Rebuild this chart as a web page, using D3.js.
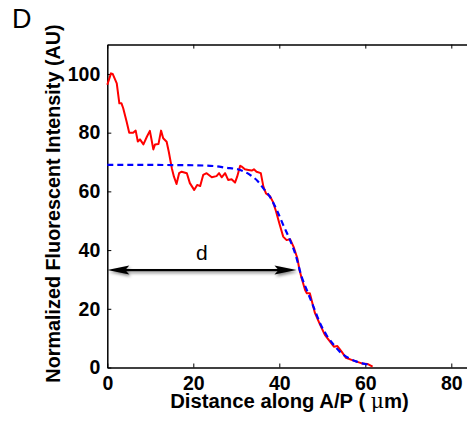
<!DOCTYPE html>
<html>
<head>
<meta charset="utf-8">
<script src="https://cdn.jsdelivr.net/npm/d3@7"></script>
<style>
  html, body { margin: 0; padding: 0; background: #fff; }
  svg { display: block; }
  text { font-family: "Liberation Sans", Arial, Helvetica, sans-serif; }
</style>
</head>
<body>
<svg id="chart" width="467" height="421"></svg>
<script>
// Measured intensity profile along the A/P axis (red)
const profileX = [0, 0.86, 1.25, 2.2, 2.8, 3.3, 3.7, 4.5, 5.1, 6.0, 6.6, 7.1, 7.6, 8.4, 9.2, 9.9, 10.3, 10.7, 11.1, 11.9,
  12.5, 13.0, 13.8, 14.3, 15.0, 15.5, 16.1, 16.7, 17.3, 18.5, 19.2, 20.2, 20.9, 21.6, 22.3, 23.1, 24.3, 25.4, 26.0, 26.6,
  27.4, 28.1, 28.9, 29.7, 30.2, 30.9, 31.3, 32.0, 32.8, 33.6, 34.1, 34.7, 35.7, 36.3, 36.9, 37.8, 38.5, 39.2, 40.1, 40.9,
  41.7, 42.5, 43.3, 44.2, 44.7, 45.2, 46.0, 46.4, 47.1, 47.7, 48.3, 49.5, 50.6, 51.8, 52.7, 53.5, 54.5, 55.5, 56.8, 58.0,
  59.2, 60.5, 61.7];
const profileY = [96.3, 100.2, 100, 96.8, 90, 90, 88.3, 83.7, 80, 80, 80.7, 77, 77.7, 76, 78.6, 80.6, 77.5, 74.3, 76, 76.1,
  80.7, 78.1, 76.9, 73.5, 67.9, 65, 62.5, 66.2, 66.7, 66.2, 62.8, 60.5, 62.2, 61.8, 65.6, 66.2, 64.8, 65.2, 66.2, 64.8,
  66.2, 63.9, 64.1, 63, 65, 68.7, 68.4, 67.5, 67.3, 67.1, 67.5, 66.7, 66.2, 61.6, 59.3, 58.4, 56.5, 53.4, 48.6, 44.6,
  43.4, 43.7, 41.2, 37.2, 33.2, 30.4, 26.4, 25.3, 25.3, 21.9, 18.5, 14.5, 11.1, 8.8, 7.1, 7.3, 5.4, 3.3, 2.6, 2,
  1.4, 1.2, 0.3];

// Fitted curve (blue, dashed)
const fitX = [0, 10, 20, 25, 27.4, 30.9, 33.2, 35.1, 36.3, 37.8, 39.4, 40.9, 42.5, 43.8, 45.2, 46.5, 48, 49.5, 51, 52.5,
  54, 56, 58, 60, 61];
const fitY = [69, 69, 68.9, 68.6, 68.1, 67.3, 65.6, 63.3, 61, 58.2, 53.7, 48.6, 43.4, 38.3, 30.9, 26, 20.5, 15, 11, 8,
  5.5, 3.3, 2, 1.2, 0.9];

// Decay length marker
const markerY = 33.2;
const markerEnd = 44.0;
const markerLabel = "d";

const xTicks = [0, 20, 40, 60, 80];
const yTicks = [0, 20, 40, 60, 80, 100];
const xDomain = [0, 85];
const yDomain = [0, 110];

const panelLabel = "D";
const xTitle = "Distance along A/P ( ";
const xTitleUnit = "\u03bcm)";
const yTitle = "Normalized Fluorescent Intensity (AU)";

const svg = d3.select("#chart");
const plotLeft = 107.3, plotBottom = 367.5, plotTop = 44.6;
const x = d3.scaleLinear().domain(xDomain).range([plotLeft, plotLeft + 85 * 4.3]);
const y = d3.scaleLinear().domain(yDomain).range([plotBottom, plotTop]);

const defs = svg.append("defs");
const shadow = defs.append("filter").attr("id", "shadow")
  .attr("x", "-10%").attr("y", "-100%").attr("width", "120%").attr("height", "300%");
shadow.append("feDropShadow").attr("dx", 1.5).attr("dy", 2).attr("stdDeviation", 1.6)
  .attr("flood-color", "#000").attr("flood-opacity", 0.45);

// Axes box (left, bottom, top; right side lies past the window)
const axisStyle = g => {
  g.select(".domain").attr("stroke", "#000").attr("stroke-width", 1.5);
  g.selectAll(".tick line").attr("stroke", "#000").attr("stroke-width", 1);
};

svg.append("g").attr("transform", `translate(0,${plotBottom})`)
  .call(d3.axisBottom(x).tickValues(xTicks).tickSize(-4).tickSizeOuter(0).tickPadding(8.5))
  .call(axisStyle)
  .call(g => g.selectAll(".tick text").attr("font-size", 19.5).attr("font-weight", "bold").attr("fill", "#000"));

svg.append("g").attr("transform", `translate(0,${plotTop})`)
  .call(d3.axisTop(x).tickValues(xTicks).tickSize(-4).tickSizeOuter(0).tickFormat(""))
  .call(axisStyle);

svg.append("g").attr("transform", `translate(${plotLeft},0)`)
  .call(d3.axisLeft(y).tickValues(yTicks).tickSize(-4).tickSizeOuter(0).tickPadding(7))
  .call(axisStyle)
  .call(g => g.selectAll(".tick text").attr("font-size", 19.5).attr("font-weight", "bold").attr("fill", "#000"));

// Curves
const profile = profileX.map((v, i) => [v, profileY[i]]);
const fit = fitX.map((v, i) => [v, fitY[i]]);
const line = d3.line().x(d => x(d[0])).y(d => y(d[1]));

svg.append("path").datum(profile)
  .attr("d", line)
  .attr("fill", "none").attr("stroke", "#ff0000").attr("stroke-width", 2)
  .attr("stroke-linejoin", "round");

svg.append("path").datum(fit)
  .attr("d", line.curve(d3.curveMonotoneX))
  .attr("fill", "none").attr("stroke", "#0000ff").attr("stroke-width", 2.2)
  .attr("stroke-dasharray", "6,4");

// Double-headed arrow marking d
const ay = y(markerY), ax0 = x(0), ax1 = x(markerEnd);
const head = 22, half = 4.5;
const arrow = svg.append("g").attr("filter", "url(#shadow)");
arrow.append("line")
  .attr("x1", ax0 + 10).attr("x2", ax1 - 10).attr("y1", ay).attr("y2", ay)
  .attr("stroke", "#000").attr("stroke-width", 2.2);
arrow.append("path")
  .attr("d", `M${ax0},${ay} L${ax0 + head},${ay - half} L${ax0 + head - 4},${ay} L${ax0 + head},${ay + half} Z`)
  .attr("fill", "#000");
arrow.append("path")
  .attr("d", `M${ax1},${ay} L${ax1 - head},${ay - half} L${ax1 - head + 4},${ay} L${ax1 - head},${ay + half} Z`)
  .attr("fill", "#000");

svg.append("text")
  .attr("x", x(markerEnd / 2)).attr("y", ay - 10)
  .attr("text-anchor", "middle").attr("font-size", 21).attr("fill", "#000")
  .text(markerLabel);

// Titles
const xt = svg.append("text")
  .attr("x", 289.5).attr("y", 407.5)
  .attr("text-anchor", "middle").attr("font-size", 20.3).attr("font-weight", "bold").attr("fill", "#000");
xt.append("tspan").text(xTitle);
xt.append("tspan").attr("font-weight", "normal").attr("font-family", "'DejaVu Serif', serif").text(xTitleUnit.slice(0, 1));
xt.append("tspan").text(xTitleUnit.slice(1));

svg.append("text")
  .attr("transform", "translate(60,203.5) rotate(-90)")
  .attr("text-anchor", "middle").attr("font-size", 19.8).attr("font-weight", "bold").attr("fill", "#000")
  .text(yTitle);

svg.append("text")
  .attr("x", 12).attr("y", 27.5)
  .attr("font-size", 27).attr("fill", "#000")
  .text(panelLabel);
</script>
</body>
</html>
